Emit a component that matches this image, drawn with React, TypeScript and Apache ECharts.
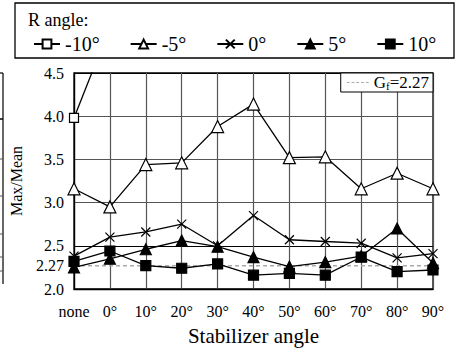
import React, { useEffect, useRef } from "react";
import * as echarts from "echarts";

const categories = ["none", "0°", "10°", "20°", "30°", "40°", "50°", "60°", "70°", "80°", "90°"];
const seriesNames = ["-10°", "-5°", "0°", "5°", "10°"];
const rMinus10 = [3.98, 5.03, null, null, null, null, null, null, null, null, null];
const rMinus5 = [3.16, 2.95, 3.44, 3.46, 3.88, 4.14, 3.52, 3.53, 3.16, 3.34, 3.16];
const r0 = [2.38, 2.6, 2.66, 2.75, 2.5, 2.85, 2.57, 2.55, 2.53, 2.36, 2.41];
const r5 = [2.25, 2.35, 2.46, 2.56, 2.49, 2.37, 2.26, 2.31, 2.38, 2.7, 2.3];
const r10 = [2.32, 2.44, 2.27, 2.24, 2.29, 2.16, 2.18, 2.16, 2.37, 2.2, 2.22];
const gfValue = 2.27;
const gfLine = categories.map(() => gfValue);
const yTicks = [2.0, 2.5, 3.0, 3.5, 4.0, 4.5];

const FONT = "Liberation Serif";
const CROSS = "path://M0,0L10,10M10,0L0,10";
const DASH_ICON = "path://M0,0h3v1h-3zM5,0h3v1h-3zM10,0h3v1h-3zM15,0h3v1h-3zM20,0h3v1h-3z";

export default function App() {
  const ref = useRef<HTMLDivElement>(null);
  useEffect(() => {
    const chart = echarts.init(ref.current!, null, { renderer: "svg" });
    const base = (name: string, data: (number | null)[], symbol: string, size: number, fill: string) => ({
      name,
      type: "line",
      data,
      symbol,
      symbolSize: size,
      showAllSymbol: true,
      connectNulls: false,
      z: 3,
      lineStyle: { color: "#000", width: 1.3 },
      itemStyle: { color: fill, borderColor: "#000", borderWidth: 1.2 },
    });
    chart.setOption({
      animation: false,
      textStyle: { fontFamily: FONT },
      grid: { left: 73, right: 27, top: 73, bottom: 50, show: true, borderColor: "#000", borderWidth: 1.3 },
      legend: [
        {
          data: seriesNames,
          left: 28,
          top: 29,
          itemWidth: 26,
          itemHeight: 11,
          itemGap: 30,
          textStyle: { fontFamily: FONT, fontSize: 20, color: "#000" },
        },
        {
          data: [{ name: "Gf", icon: DASH_ICON, itemStyle: { color: "#aaa" } }],
          right: 27,
          top: 73,
          itemWidth: 22,
          itemHeight: 2,
          padding: [1, 4, 1, 6],
          backgroundColor: "#fff",
          borderColor: "#000",
          borderWidth: 1,
          formatter: () => "{a|G}{b|f}{a|=" + gfValue + "}",
          textStyle: {
            fontFamily: FONT,
            color: "#000",
            rich: {
              a: { fontFamily: FONT, fontSize: 17, color: "#000" },
              b: { fontFamily: FONT, fontSize: 11, color: "#000", verticalAlign: "bottom", padding: [6, 0, 0, 0] },
            },
          },
        },
      ],
      xAxis: {
        type: "category",
        data: categories,
        boundaryGap: false,
        axisLine: { lineStyle: { color: "#000", width: 1.3 } },
        axisTick: { show: false },
        axisLabel: { color: "#000", fontSize: 16, fontFamily: FONT, margin: 14, interval: 0 },
        splitLine: { show: true, interval: 0, lineStyle: { color: "#555", width: 1.2 } },
        name: "Stabilizer angle",
        nameLocation: "middle",
        nameGap: 36,
        nameTextStyle: { color: "#000", fontSize: 21, fontFamily: FONT },
      },
      yAxis: {
        type: "value",
        min: yTicks[0],
        max: yTicks[yTicks.length - 1],
        interval: 0.5,
        axisLine: { show: true, lineStyle: { color: "#000", width: 1.3 } },
        axisTick: { show: false },
        axisLabel: { color: "#000", fontSize: 16, fontFamily: FONT, margin: 10, formatter: (v: number) => v.toFixed(1) },
        splitLine: { show: true, lineStyle: { color: ["#000", "#000", "#555", "#555", "#555", "#000"], width: 1.2 } },
        name: "Max/Mean",
        nameLocation: "middle",
        nameGap: 50,
        nameTextStyle: { color: "#000", fontSize: 16, fontFamily: FONT },
      },
      series: [
        {
          name: "Gf",
          type: "line",
          data: gfLine,
          symbol: "none",
          z: 2,
          lineStyle: { color: "#aaa", width: 1.5, type: [4, 3] },
          itemStyle: { color: "#aaa" },
          markLine: {
            silent: true,
            symbol: "none",
            data: [{ yAxis: gfValue }],
            lineStyle: { color: "rgba(0,0,0,0)", width: 0 },
            label: { show: true, position: "start", formatter: String(gfValue), color: "#000", fontSize: 16, fontFamily: FONT, distance: 10 },
          },
        },
        base("-10°", rMinus10, "rect", 9, "#fff"),
        base("-5°", rMinus5, "triangle", 12, "#fff"),
        base("0°", r0, CROSS, 9, "#000"),
        base("5°", r5, "triangle", 11, "#000"),
        base("10°", r10, "rect", 10, "#000"),
      ],
      graphic: [
        { type: "rect", shape: { x: 15, y: 3, width: 439, height: 55 }, style: { fill: "none", stroke: "#000", lineWidth: 1.3 } },
        { type: "text", left: 28, top: 11, style: { text: "R angle:", font: "18px 'Liberation Serif'", fill: "#000" } },
        { type: "line", shape: { x1: 3, y1: 73, x2: 3, y2: 284 }, style: { stroke: "#000", lineWidth: 1.2 } },
        { type: "line", shape: { x1: 0, y1: 73, x2: 3, y2: 73 }, style: { stroke: "#000", lineWidth: 1.2 } },
        { type: "line", shape: { x1: 0, y1: 119, x2: 3, y2: 119 }, style: { stroke: "#000", lineWidth: 1.5 } },
        { type: "line", shape: { x1: 0, y1: 159, x2: 3, y2: 159 }, style: { stroke: "#555", lineWidth: 1 } },
        { type: "line", shape: { x1: 0, y1: 196, x2: 3, y2: 196 }, style: { stroke: "#555", lineWidth: 1 } },
        { type: "line", shape: { x1: 0, y1: 234, x2: 3, y2: 234 }, style: { stroke: "#555", lineWidth: 1 } },
        { type: "line", shape: { x1: 0, y1: 257, x2: 3, y2: 257 }, style: { stroke: "#555", lineWidth: 1 } },
        { type: "line", shape: { x1: 0, y1: 271, x2: 3, y2: 271 }, style: { stroke: "#555", lineWidth: 1 } },
      ],
    });
    return () => chart.dispose();
  }, []);
  return <div ref={ref} style={{ width: 460, height: 351, position: "absolute", left: 0, top: 0 }} />;
}
